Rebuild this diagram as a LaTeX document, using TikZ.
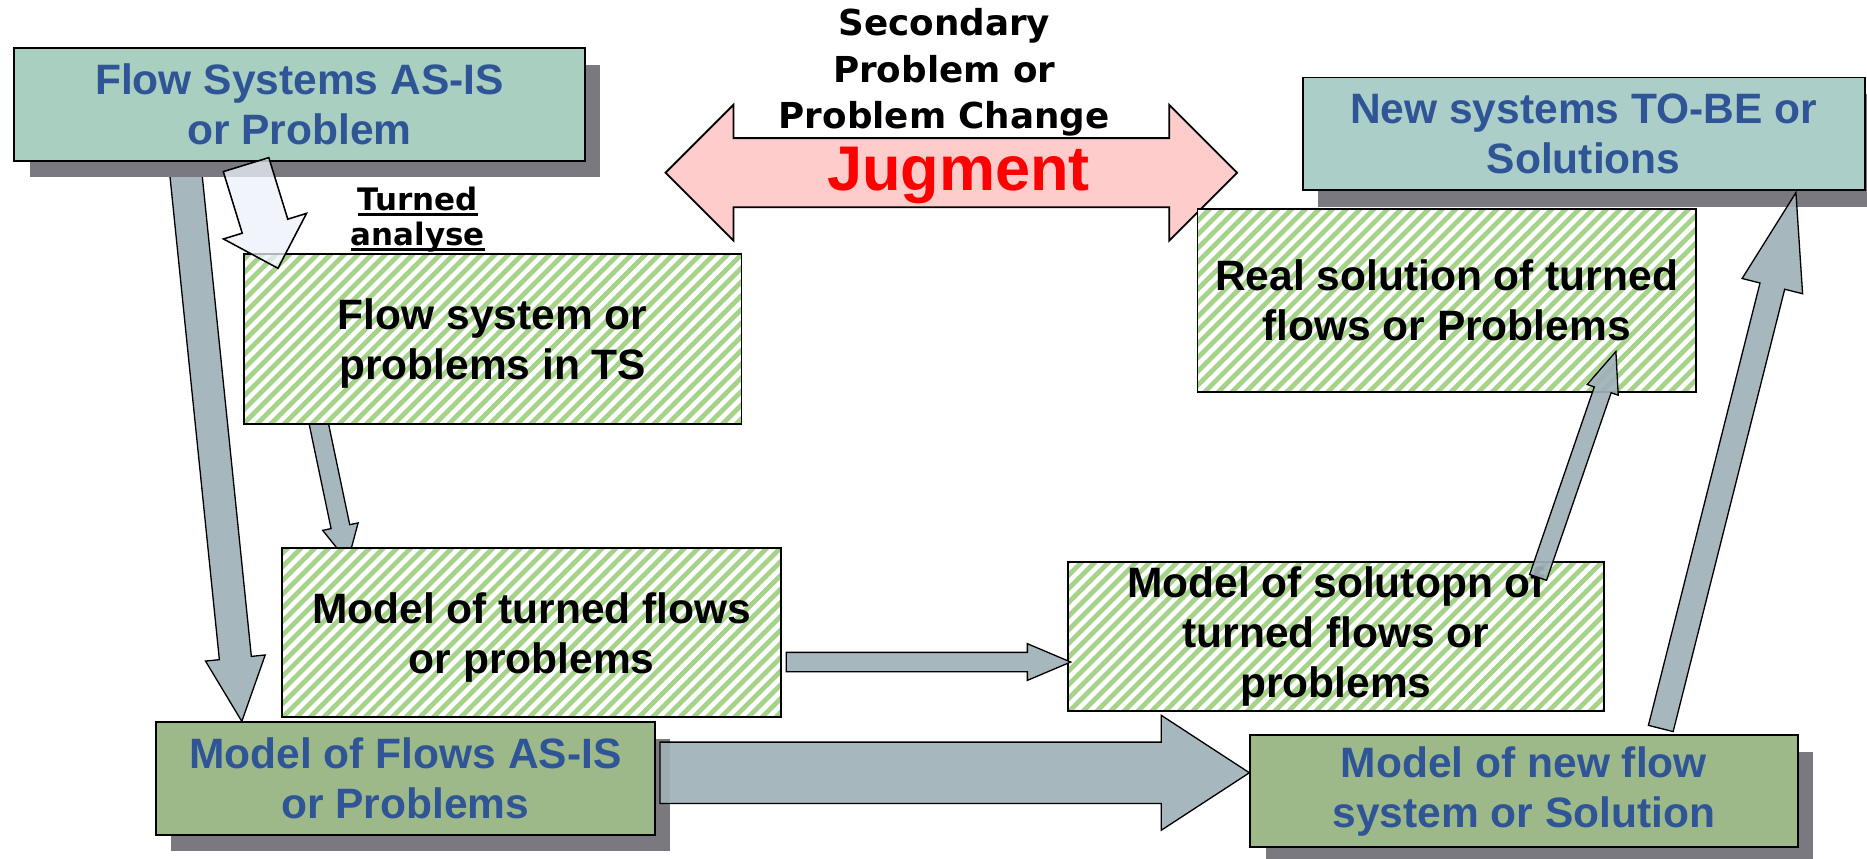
\documentclass[tikz,border=0pt]{standalone}
\usepackage{fontspec}
\setmainfont{Liberation Sans}
\newfontfamily\verdfont{DejaVu Sans}
\usetikzlibrary{calc,shadows}

\definecolor{asisgreen}{HTML}{A9CFC0}
\definecolor{tobegreen}{HTML}{ABCEC8}
\definecolor{modgreen}{HTML}{9DB98A}
\definecolor{shadegray}{HTML}{7A7980}
\definecolor{arrowgray}{HTML}{A0B1B8}
\definecolor{paleblue}{HTML}{ECF2FA}
\definecolor{jugpink}{HTML}{FFCCCC}
\definecolor{txtblue}{HTML}{2F5597}
\definecolor{stripegreen}{HTML}{A6D28A}

\pgfdeclarelayer{bg}
\pgfsetlayers{bg,main}

\newcommand\undl[1]{\leavevmode\setbox0\hbox{#1}\rlap{\vrule width\wd0 height -2.5pt depth 4.5pt}\box0}

% block arrow: [style]{tail}{tip}{half shaft}{half head}{head length}
\newcommand\blockarrow[6][]{%
  \coordinate (bah) at ($(#3)!#6!(#2)$);
  \draw[#1] ($(#2)!#4!90:(#3)$) -- ($(bah)!#4!90:(#3)$) -- ($(bah)!#5!90:(#3)$) -- (#3)
    -- ($(bah)!#5!-90:(#3)$) -- ($(bah)!#4!-90:(#3)$) -- ($(#2)!#4!-90:(#3)$) -- cycle;}

\tikzset{
  box/.style={draw=black, line width=1.5pt, inner sep=0pt, align=center,
    font=\bfseries\fontsize{35.7}{42}\selectfont},
  solidbox/.style={box, text=txtblue,
    drop shadow={shadow xshift=13pt, shadow yshift=-14pt, fill=shadegray, opacity=1}},
  hatchbox/.style={box, fill=white, path picture={
    \foreach \k in {-32,...,32}
      \draw[stripegreen, line width=4pt]
        ([xshift={\k*11.5pt-110pt}, yshift=-110pt]path picture bounding box.center) -- ++(220pt,220pt);}},
  grayarrow/.style={draw=black, line width=1.1pt, fill=arrowgray, fill opacity=0.92},
  palearrow/.style={draw=black, line width=1.3pt, fill=paleblue, fill opacity=0.75},
}

\begin{document}
\begin{tikzpicture}[x=1pt,y=-1pt]
\useasboundingbox (0,0) rectangle (1568,721);
\clip (0,0) rectangle (1568,721);

% judgment double arrow
\coordinate (jl) at (559,145);
\coordinate (jr) at (1039,145);
\draw[line width=1.5pt, fill=jugpink] (jl) -- ++(57,-57) -- ++(0,28) -- (982,116) -- ++(0,-28) -- (jr)
  -- ++(-57,57) -- ++(0,-28) -- (616,174) -- ++(0,28) -- cycle;

\node[solidbox, fill=asisgreen, minimum width=479pt, minimum height=94.4pt] (asis) at (251.5,87.8) {Flow Systems AS-IS\\or Problem};
\node[solidbox, fill=tobegreen, minimum width=472pt, minimum height=94.6pt] (tobe) at (1330,112.3) {New systems TO-BE or\\Solutions};
\node[hatchbox, minimum width=418pt, minimum height=142.7pt] (flowts) at (413.8,284.6) {\rule{0pt}{34pt}Flow system or\\problems in TS};
\node[hatchbox, minimum width=419pt, minimum height=141.5pt] (modturn) at (446.5,531.3) {\rule{0pt}{34pt}Model of turned flows\\or problems};
\node[hatchbox, minimum width=418.3pt, minimum height=154pt] (real) at (1214.9,252.5) {Real solution of turned\\flows or Problems};
\node[hatchbox, minimum width=450pt, minimum height=125.3pt] (modsol) at (1122,534.4) {Model of solutopn of\\turned flows or\\problems};
\node[solidbox, fill=modgreen, minimum width=419.3pt, minimum height=94.4pt] (modasis) at (340.4,653.8) {Model of Flows AS-IS\\or Problems};
\node[solidbox, fill=modgreen, minimum width=459.7pt, minimum height=94.3pt] (modnew) at (1279.9,664.5) {Model of new flow\\system or Solution};

\node[font=\bfseries\fontsize{53}{60}\selectfont, text=red, inner sep=0pt] (jug) at (805,147.5) {Jugment};
\node[font=\verdfont\bfseries\fontsize{30}{39}\selectfont, align=center, inner sep=0pt] (sec) at (793,61) {Secondary\\Problem or\\Problem Change};
\node[font=\verdfont\bfseries\fontsize{26}{29.4}\selectfont, align=center, inner sep=0pt] (turned) at (351,184.2) {\undl{Turned}\\\undl{analyse}};

% arrow ends
\coordinate (a1s) at (151.4,100);
\coordinate (a1e) at ($(modasis.north west)+(73.1,0)$);
\coordinate (a2s) at ($(asis.south west)+(195.4,2.5)$);
\coordinate (a2e) at ($(flowts.north west)+(29.4,12.8)$);
\coordinate (a3s) at ($(flowts.south west)+(61.2,-12.7)$);
\coordinate (a3e) at ($(modturn.north west)+(55.8,11.85)$);
\coordinate (a4s) at ($(modturn.east)+(3.5,24.7)$);
\coordinate (a4e) at ($(modsol.west)+(3,21.6)$);
\coordinate (a5s) at ($(modasis.east)+(3.5,-4.8)$);
\coordinate (a5e) at ($(modnew.west)+(0,-15.5)$);
\coordinate (a6s) at ($(modsol.north east)+(-56,13.9)$);
\coordinate (a6e) at ($(real.south east)+(-67.7,-35)$);
\coordinate (a7s) at ($(modnew.north east)+(-115.7,-4.8)$);
\coordinate (a7e) at ($(tobe.south)+(178.3,1.4)$);

\begin{pgfonlayer}{bg}
\blockarrow[grayarrow]{a1s}{a1e}{13.5pt}{25.2pt}{53.5pt}
\blockarrow[grayarrow]{a3s}{a3e}{8pt}{15.2pt}{30pt}
\end{pgfonlayer}

\blockarrow[palearrow]{a2s}{a2e}{20pt}{36.5pt}{37pt}
\blockarrow[grayarrow]{a4s}{a4e}{8.1pt}{15.4pt}{36.4pt}
\blockarrow[grayarrow]{a5s}{a5e}{25.75pt}{48.25pt}{74pt}
\blockarrow[grayarrow]{a6s}{a6e}{7.5pt}{13.8pt}{34pt}
\blockarrow[grayarrow]{a7s}{a7e}{10.7pt}{26.2pt}{81pt}

\end{tikzpicture}
\end{document}
